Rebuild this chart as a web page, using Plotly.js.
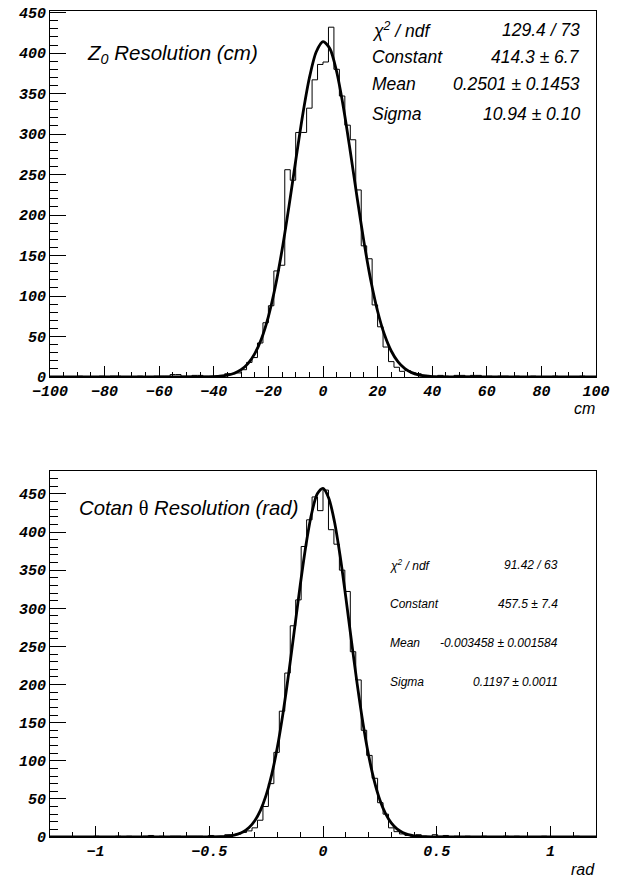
<!DOCTYPE html>
<html>
<head>
<meta charset="utf-8">
<script src="https://cdn.plot.ly/plotly-3.0.1.min.js"></script>
<style>html,body{margin:0;padding:0;background:#fff;}#chart{width:631px;height:878px;}</style>
</head>
<body>
<div id="chart"></div>
<script>
// ---------- Z0 resolution histogram (100 bins, -100..100 cm) ----------
const zBinLow = -100;
const zBinWidth = 2;
const zCounts = [
  0,0,0,0,0,1,0,0,0,1,
  0,1,1,0,0,0,1,0,0,1,
  1,1,3,3,1,1,2,2,1,1,
  1,2,4,4,5,9,18,24,42,67,
  88,131,138,256,243,302,302,332,367,386,
  389,432,380,347,311,293,231,162,146,89,
  62,37,19,12,7,8,5,4,2,1,
  1,2,1,0,2,2,1,2,2,0,
  1,0,1,1,0,1,0,0,1,0,
  0,0,1,0,0,0,0,1,0,0
];
// fit curve
const zFitX = [-100,-60,-50,-45,-40,-37.5,-35,-32.5,-30,-27.5,-25,-22.5,-20,-17.5,-15,-12.5,-10,-7.5,-5,-2.5,0,2.5,5,7.5,10,12.5,15,17.5,20,22.5,25,27.5,30,32.5,35,37.5,40,45,50,60,100];
const zFitY = [0,0,0.01,0.12,0.48,1.08,2.31,4.69,9.06,16.6,28.9,47.7,74.7,111.1,156.8,210.1,267.1,322.4,369.2,401.4,414.2,405.6,377.0,332.6,278.5,221.3,166.9,119.5,81.2,52.4,32.1,18.6,10.3,5.37,2.67,1.26,0.56,0.13,0.02,0,0];
const zStatLabels = ['χ<sup>2</sup> / ndf','Constant','Mean','Sigma'];
const zStatValues = ['129.4 / 73','414.3 ± 6.7','0.2501 ± 0.1453','10.94 ± 0.10'];

// ---------- Cotan theta resolution histogram (100 bins, -1.2..1.2 rad) ----------
const cBinLow = -1.2;
const cBinWidth = 0.024;
const cCounts = [
  0,0,0,0,0,0,0,0,1,0,
  0,0,1,0,1,0,0,1,2,0,
  1,0,1,1,0,1,1,1,0,2,
  1,1,3,3,4,6,8,12,22,40,
  70,111,165,215,277,311,381,416,446,428,
  455,403,384,350,322,243,206,140,107,77,
  45,30,12,7,4,2,1,3,1,0,
  3,1,2,0,1,0,1,0,0,1,
  0,0,0,1,0,1,0,0,0,0,
  1,0,0,0,0,0,1,0,0,0
];
const cFitX = [-1.2,-0.7,-0.55,-0.5,-0.45,-0.425,-0.4,-0.375,-0.35,-0.325,-0.3,-0.275,-0.25,-0.225,-0.2,-0.175,-0.15,-0.125,-0.1,-0.075,-0.05,-0.025,0,0.025,0.05,0.075,0.1,0.125,0.15,0.175,0.2,0.225,0.25,0.275,0.3,0.325,0.35,0.375,0.4,0.425,0.45,0.5,0.55,0.7,1.2];
const cFitY = [0,0,0.001,0.04,0.435,0.93,1.89,3.70,6.92,12.40,21.27,34.91,54.85,82.53,118.8,163.8,216.2,273.2,330.5,382.7,424.2,450.2,457.3,444.7,414.1,369.1,314.9,257.2,201.1,150.6,107.9,74.0,48.6,30.6,18.4,10.6,5.85,3.09,1.56,0.76,0.35,0.05,0.005,0,0];
const cStatLabels = ['χ<sup>2</sup> / ndf','Constant','Mean','Sigma'];
const cStatValues = ['91.42 / 63','457.5 ± 7.4','-0.003458 ± 0.001584','0.1197 ± 0.0011'];

// ---------- helpers ----------
function stepTrace(low, width, counts, xa, ya) {
  const xs = [], ys = [];
  for (let i = 0; i < counts.length; i++) { xs.push(low + i * width); ys.push(counts[i]); }
  xs.push(low + counts.length * width); ys.push(counts[counts.length - 1]);
  return {x: xs, y: ys, type: 'scatter', mode: 'lines', line: {shape: 'hv', color: '#000', width: 1},
          xaxis: xa, yaxis: ya, hoverinfo: 'skip', showlegend: false};
}
function fitTrace(xs, ys, xa, ya) {
  return {x: xs, y: ys, type: 'scatter', mode: 'lines', line: {shape: 'spline', smoothing: 0.8, color: '#000', width: 2.8},
          xaxis: xa, yaxis: ya, hoverinfo: 'skip', showlegend: false};
}

const W = 631, H = 878;
const px = v => v / W;
const py = v => 1 - v / H;

const tickFont = {family: 'Liberation Mono, DejaVu Sans Mono, monospace', size: 15, color: '#000', weight: 'bold', style: 'italic'};
const textFont = (s) => ({family: 'Liberation Sans, Arial, sans-serif', size: s, color: '#000', style: 'italic'});

function axisBase() {
  return {showline: true, linecolor: '#000', linewidth: 1, mirror: true, ticks: 'inside', tickcolor: '#000',
          tickwidth: 1, showgrid: false, zeroline: false, tickfont: tickFont, fixedrange: true};
}

const xa1 = Object.assign(axisBase(), {domain: [px(50), px(596)], range: [-100, 100], anchor: 'y', tick0: 0, dtick: 20, ticklen: 11,
  minor: {dtick: 5, tick0: 0, ticklen: 5.5, ticks: 'inside', tickcolor: '#000', showgrid: false}});
const ya1 = Object.assign(axisBase(), {domain: [py(377), py(11)], range: [0, 452], anchor: 'x', tick0: 0, dtick: 50, ticklen: 16,
  minor: {dtick: 10, tick0: 0, ticklen: 8, ticks: 'inside', tickcolor: '#000', showgrid: false}});
const xa2 = Object.assign(axisBase(), {domain: [px(50), px(596)], range: [-1.2, 1.2], anchor: 'y2', tick0: 0, dtick: 0.5, ticklen: 11,
  minor: {dtick: 0.1, tick0: 0, ticklen: 5.5, ticks: 'inside', tickcolor: '#000', showgrid: false}});
const ya2 = Object.assign(axisBase(), {domain: [py(837), py(471)], range: [0, 480], anchor: 'x2', tick0: 0, dtick: 50, ticklen: 16,
  minor: {dtick: 10, tick0: 0, ticklen: 8, ticks: 'inside', tickcolor: '#000', showgrid: false}});

const annotations = [];
function ann(text, x, y, xanchor, size) {
  annotations.push({text: text, x: px(x), y: py(y), xref: 'paper', yref: 'paper', xanchor: xanchor, yanchor: 'middle',
                    showarrow: false, font: textFont(size)});
}
ann('Z<sub>0</sub> Resolution (cm)', 85, 54, 'left', 20.5);
ann('Cotan <span style="font-family:Liberation Serif;font-style:normal">θ</span> Resolution (rad)', 77, 508, 'left', 20.3);
const zRows = [30, 57, 84, 114];
zStatLabels.forEach((t, i) => ann(t, 370, zRows[i], 'left', 17.5));
zStatValues.forEach((t, i) => ann(t, 582, zRows[i], 'right', 17.5));
const cRows = [565, 604, 643, 682];
cStatLabels.forEach((t, i) => ann(t, 388, cRows[i], 'left', 12));
cStatValues.forEach((t, i) => ann(t, 560, cRows[i], 'right', 12));
ann('cm', 597, 409, 'right', 16);
ann('rad', 597, 869, 'right', 16);

const data = [
  stepTrace(zBinLow, zBinWidth, zCounts, 'x', 'y'),
  fitTrace(zFitX, zFitY, 'x', 'y'),
  stepTrace(cBinLow, cBinWidth, cCounts, 'x2', 'y2'),
  fitTrace(cFitX, cFitY, 'x2', 'y2')
];

const layout = {
  width: W, height: H, margin: {l: 0, r: 0, t: 0, b: 0}, paper_bgcolor: '#fff', plot_bgcolor: '#fff',
  showlegend: false, xaxis: xa1, yaxis: ya1, xaxis2: xa2, yaxis2: ya2, annotations: annotations
};

Plotly.newPlot('chart', data, layout, {staticPlot: true, displayModeBar: false});
</script>
</body>
</html>
